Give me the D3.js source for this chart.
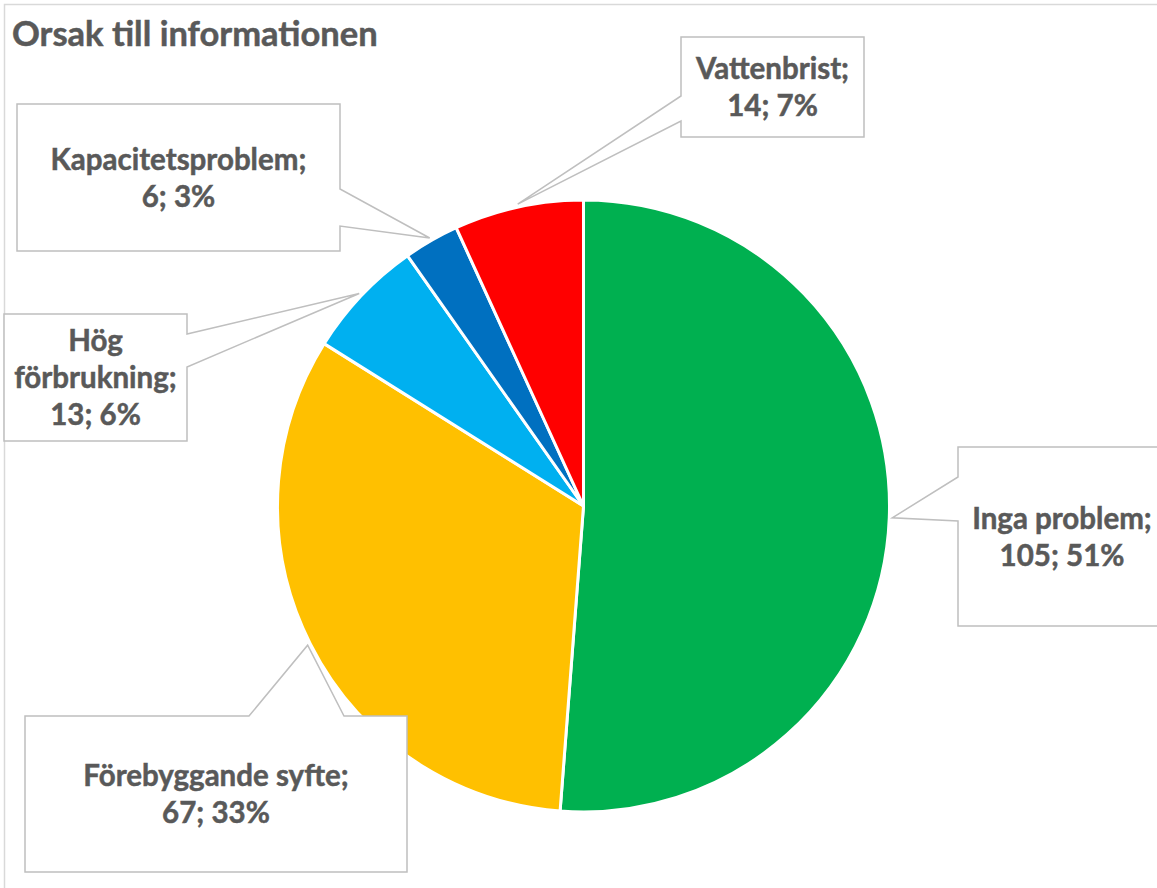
<!DOCTYPE html>
<html>
<head>
<meta charset="utf-8">
<script src="https://cdn.jsdelivr.net/npm/d3@7"></script>
<style>
  html, body { margin: 0; padding: 0; background: #fff; }
  svg { display: block; }
</style>
</head>
<body>
<svg id="chart" width="1157" height="888"></svg>
<script>
// ---- data ----
const title = "Orsak till informationen";
const categories = ["Inga problem", "Förebyggande syfte", "Hög förbrukning", "Kapacitetsproblem", "Vattenbrist"];
const values = [105, 67, 13, 6, 14];
const colors = ["#00B050", "#FFC000", "#00B0F0", "#0070C0", "#FF0000"];

// ---- layout (label callout boxes) ----
const boxes = [
  { x: 958, y: 447, w: 208, h: 179, side: "left",  b1: 477, b2: 521 },
  { x: 25,  y: 716, w: 382, h: 156, side: "top",   b1: 249, b2: 344 },
  { x: 4,   y: 314, w: 183, h: 127, side: "right", b1: 334, b2: 367, wrap: true },
  { x: 17,  y: 104, w: 323, h: 147, side: "right", b1: 189, b2: 226 },
  { x: 681, y: 37,  w: 183, h: 100, side: "left",  b1: 96,  b2: 121 }
];

const W = 1157, H = 888;
const cx = 583.5, cy = 506, R = 306;
const fontFamily = "Lato, 'Liberation Sans', sans-serif";
const textColor = "#595959";
const lineH = 37;

const svg = d3.select("#chart");

// chart border
svg.append("rect")
  .attr("x", 4.5).attr("y", 4.5)
  .attr("width", W + 10).attr("height", H + 10)
  .attr("fill", "#fff")
  .attr("stroke", "#D9D9D9").attr("stroke-width", 1.5);

// title
svg.append("text")
  .attr("x", 12).attr("y", 46)
  .attr("font-family", fontFamily)
  .attr("font-weight", "bold")
  .attr("font-size", 34.5)
  .attr("fill", textColor)
  .attr("stroke", textColor).attr("stroke-width", 0.5)
  .text(title);

const total = d3.sum(values);
const data = categories.map((c, i) => ({ name: c, value: values[i], color: colors[i], box: boxes[i] }));

const pie = d3.pie().value(d => d.value).sort(null);
const arcs = pie(data);
const arc = d3.arc().innerRadius(0).outerRadius(R);
const tipArc = d3.arc().innerRadius(R + 3).outerRadius(R + 3);

const g = svg.append("g").attr("transform", `translate(${cx},${cy})`);
g.selectAll("path.slice")
  .data(arcs)
  .join("path")
  .attr("class", "slice")
  .attr("d", arc)
  .attr("fill", d => d.data.color)
  .attr("stroke", "#fff")
  .attr("stroke-width", 3)
  .attr("stroke-linejoin", "round");

function calloutPath(b, tip) {
  const x0 = b.x, y0 = b.y, x1 = b.x + b.w, y1 = b.y + b.h;
  const p = d3.path();
  if (b.side === "right") {
    p.moveTo(x0, y0); p.lineTo(x1, y0); p.lineTo(x1, b.b1);
    p.lineTo(tip[0], tip[1]); p.lineTo(x1, b.b2);
    p.lineTo(x1, y1); p.lineTo(x0, y1); p.closePath();
  } else if (b.side === "left") {
    p.moveTo(x0, y0); p.lineTo(x1, y0); p.lineTo(x1, y1); p.lineTo(x0, y1);
    p.lineTo(x0, b.b2); p.lineTo(tip[0], tip[1]); p.lineTo(x0, b.b1); p.closePath();
  } else {
    p.moveTo(x0, y0); p.lineTo(b.b1, y0); p.lineTo(tip[0], tip[1]); p.lineTo(b.b2, y0);
    p.lineTo(x1, y0); p.lineTo(x1, y1); p.lineTo(x0, y1); p.closePath();
  }
  return p.toString();
}

const labels = svg.append("g");
arcs.forEach(a => {
  const d = a.data, b = d.box;
  const c = tipArc.centroid(a);
  const tip = [cx + c[0], cy + c[1]];
  labels.append("path")
    .attr("d", calloutPath(b, tip))
    .attr("fill", "#fff")
    .attr("stroke", "#BFBFBF")
    .attr("stroke-width", 1.5)
    .attr("stroke-linejoin", "miter");

  const pct = Math.round(d.value / total * 100);
  let lines;
  if (b.wrap) {
    const parts = d.name.split(" ");
    parts[parts.length - 1] += ";";
    lines = parts.concat([`${d.value}; ${pct}%`]);
  } else {
    lines = [d.name + ";", `${d.value}; ${pct}%`];
  }
  const mx = b.x + b.w / 2, my = b.y + b.h / 2;
  const startY = my - (lines.length - 1) * lineH / 2 + 10.5;
  const t = labels.append("text")
    .attr("font-family", fontFamily)
    .attr("font-weight", "bold")
    .attr("font-size", 29.5)
    .attr("fill", textColor)
    .attr("stroke", textColor).attr("stroke-width", 0.5)
    .attr("text-anchor", "middle");
  lines.forEach((ln, i) => {
    t.append("tspan").attr("x", mx).attr("y", startY + i * lineH).text(ln);
  });
});
</script>
</body>
</html>
